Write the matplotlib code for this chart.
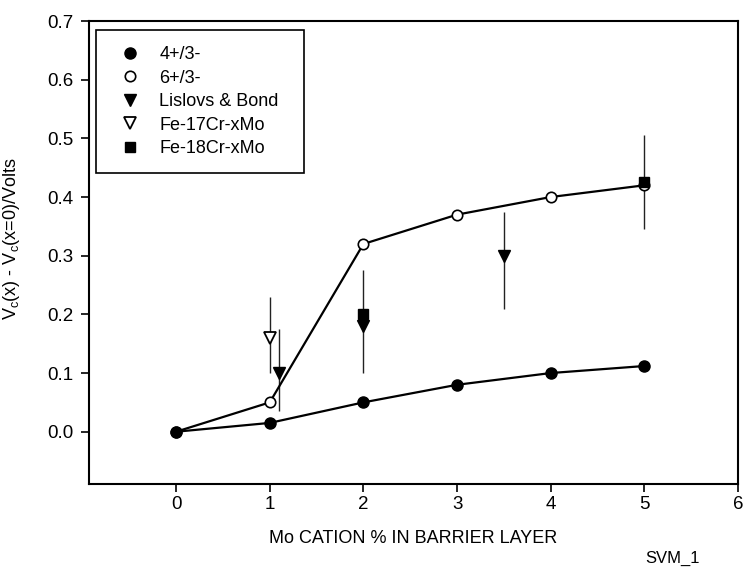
import matplotlib.pyplot as plt
from matplotlib.lines import Line2D

plt.rcParams['font.family'] = ['Liberation Sans', 'DejaVu Sans']

# Mo cation % in barrier layer
x_mo = [0, 1, 2, 3, 4, 5]
v_43 = [0.0, 0.015, 0.05, 0.08, 0.10, 0.112]   # 4+/3-
v_63 = [0.0, 0.05, 0.32, 0.37, 0.40, 0.42]     # 6+/3-

# Lislovs & Bond (with vertical range bars)
lb_x = [1.1, 2.0, 3.5]
lb_y = [0.10, 0.18, 0.30]
lb_lo = [0.035, 0.10, 0.21]
lb_hi = [0.175, 0.275, 0.375]

# Fe-17Cr-xMo
f17_x = [1.0]
f17_y = [0.16]
f17_lo = [0.10]
f17_hi = [0.23]

# Fe-18Cr-xMo
f18_x = [2.0, 5.0]
f18_y = [0.20, 0.425]
f18_lo = [0.20, 0.345]
f18_hi = [0.20, 0.505]

labels = ['4+/3-', '6+/3-', 'Lislovs & Bond', 'Fe-17Cr-xMo', 'Fe-18Cr-xMo']


def yerr(y, lo, hi):
    return [[a - b for a, b in zip(y, lo)], [b - a for a, b in zip(y, hi)]]


fig = plt.figure(figsize=(7.46, 5.68), dpi=100)
ax = fig.add_axes([0.1193, 0.148, 0.870, 0.815])

# range bars first, thin
for xs, ys, lo, hi in [(lb_x, lb_y, lb_lo, lb_hi), (f17_x, f17_y, f17_lo, f17_hi),
                       (f18_x, f18_y, f18_lo, f18_hi)]:
    ax.errorbar(xs, ys, yerr=yerr(ys, lo, hi), fmt='none', ecolor='#222222',
                elinewidth=1.0, capsize=0, zorder=1)

ax.plot(x_mo, v_63, color='black', lw=1.6, marker='o', ms=7.5, mfc='white',
        mec='black', mew=1.2, zorder=3)
ax.plot(x_mo, v_43, color='black', lw=1.6, marker='o', ms=8, mfc='black',
        mec='black', zorder=4)
ax.plot(lb_x, lb_y, ls='none', marker='v', ms=9, mfc='black', mec='black', zorder=5)
ax.plot(f17_x, f17_y, ls='none', marker='v', ms=8.5, mfc='white', mec='black',
        mew=1.3, zorder=5)
ax.plot(f18_x, f18_y, ls='none', marker='s', ms=7, mfc='black', mec='black', zorder=6)

ax.set_xlim(-0.93, 6)
ax.set_ylim(-0.089, 0.7)
ax.set_xticks(range(0, 7))
ax.set_yticks([0.0, 0.1, 0.2, 0.3, 0.4, 0.5, 0.6, 0.7])
ax.set_yticklabels(['%.1f' % v for v in ax.get_yticks()])
ax.tick_params(axis='both', direction='out', length=6, width=1.2, labelsize=13.5)
ax.tick_params(axis='y', pad=5)
ax.tick_params(axis='x', pad=3)
for s in ax.spines.values():
    s.set_linewidth(1.5)

ax.set_xlabel('Mo CATION % IN BARRIER LAYER', fontsize=13, labelpad=12)
ax.set_ylabel(r'V$_\mathregular{c}$(x) - V$_\mathregular{c}$(x=0)/Volts', fontsize=13)
ax.yaxis.set_label_coords(-0.103, 0.53)

handles = [
    Line2D([], [], ls='none', marker='o', ms=8, mfc='black', mec='black'),
    Line2D([], [], ls='none', marker='o', ms=7.5, mfc='white', mec='black', mew=1.2),
    Line2D([], [], ls='none', marker='v', ms=9, mfc='black', mec='black'),
    Line2D([], [], ls='none', marker='v', ms=8.5, mfc='white', mec='black', mew=1.3),
    Line2D([], [], ls='none', marker='s', ms=7, mfc='black', mec='black'),
]
leg = ax.legend(handles, labels, loc='upper left',
                bbox_to_anchor=(0.011, 0.5, 0.32, 0.481), mode='expand',
                borderaxespad=0, fontsize=13, frameon=True, fancybox=False,
                edgecolor='black', framealpha=1, handlelength=2.0,
                handletextpad=0.6, borderpad=0.9, labelspacing=0.36)
leg.get_frame().set_linewidth(1.2)

fig.text(0.901, 0.0176, 'SVM_1', fontsize=12, ha='center', va='center')

fig.savefig('out.png', dpi=100)
